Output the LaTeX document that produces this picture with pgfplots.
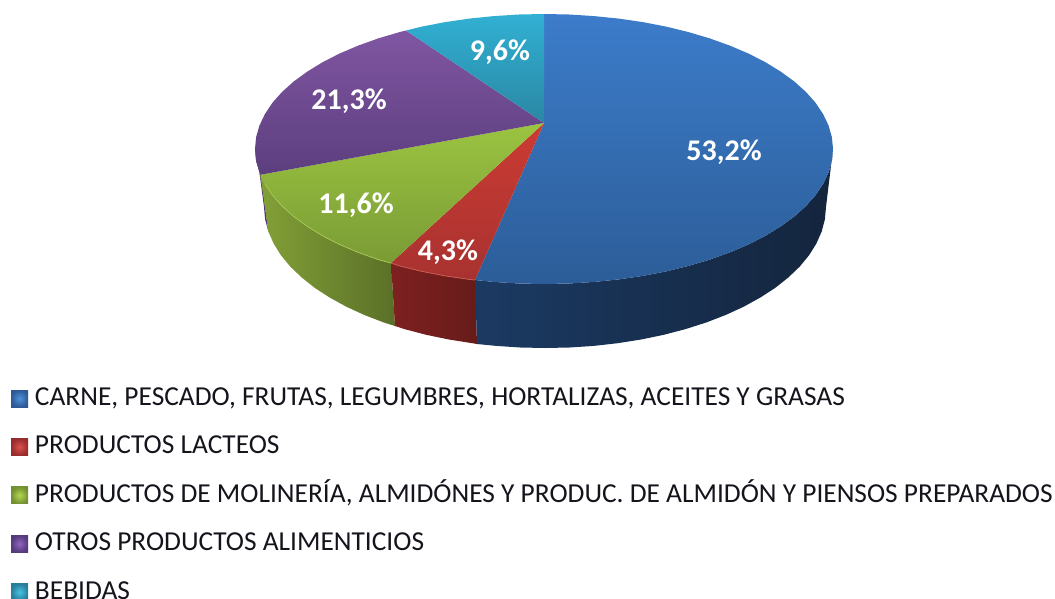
\documentclass[border=0pt]{standalone}
\usepackage{pgfplots}
\pgfplotsset{compat=1.18}
\usepackage{fontspec}
\setmainfont{Carlito}
\definecolor{legtext}{HTML}{14141C}
\definecolor{pside}{HTML}{4F2F70}
\definecolor{gsideL}{HTML}{82A037}
\definecolor{gsideR}{HTML}{5A7028}
\definecolor{rsideL}{HTML}{7E2020}
\definecolor{rsideR}{HTML}{661C1A}
\definecolor{bsideL}{HTML}{1B3A63}
\definecolor{bsideM}{HTML}{152A45}
\definecolor{bsideR}{HTML}{14253D}
\definecolor{btop}{HTML}{3C7CCA}
\definecolor{bbot}{HTML}{2C5D98}
\definecolor{rtop}{HTML}{CC3B33}
\definecolor{rbot}{HTML}{A83230}
\definecolor{gtop}{HTML}{9BC441}
\definecolor{gbot}{HTML}{7A9B35}
\definecolor{ptop}{HTML}{8056A2}
\definecolor{pbot}{HTML}{5C3E7E}
\definecolor{ctop}{HTML}{31B0D3}
\definecolor{cbot}{HTML}{2A87A3}
\definecolor{blin}{HTML}{5091DC}
\definecolor{blout}{HTML}{2D5A96}
\definecolor{rlin}{HTML}{DE504B}
\definecolor{rlout}{HTML}{962D2D}
\definecolor{glin}{HTML}{B4D750}
\definecolor{glout}{HTML}{739132}
\definecolor{plin}{HTML}{9164BE}
\definecolor{plout}{HTML}{553A7D}
\definecolor{clin}{HTML}{46C3E1}
\definecolor{clout}{HTML}{287D9B}
\definecolor{grim}{HTML}{A6C653}
\definecolor{rrim}{HTML}{CB5A52}
\newcommand{\legsq}[2]{\shade[inner color=#1,outer color=#2] (0pt,-8.5pt) rectangle (17pt,8.5pt);}
\begin{document}
\begin{tikzpicture}
\path[use as bounding box] (0,0) rectangle (1055pt,598pt);
\clip (0,0) rectangle (1055pt,598pt);
\begin{axis}[
  at={(0,0)}, anchor=south west, scale only axis, width=1055pt, height=598pt,
  xmin=0, xmax=1055, ymin=0, ymax=598, y dir=reverse, hide axis, clip=false,
  legend cell align=left,
  legend style={at={(axis cs:11,386.5)}, anchor=north west, draw=none, fill=none,
    inner sep=0pt, outer sep=0pt, row sep=24.4pt,
    font=\fontsize{27.4}{27.4}\selectfont\color{legtext},
    nodes={inner sep=0pt, outer sep=0pt, text height=19pt, text depth=5pt},
    /tikz/column 1/.style={column sep=7pt}},
]
% sides
\addplot[forget plot, draw=none, fill=pside] coordinates {(255,149)(256.1,160.8)(259.4,172.4)(264,207)(265.1,219.3)(268.3,231.5)(261,176)} -- cycle;
\addplot[forget plot, draw=none, shade, left color=gsideL, right color=gsideR] coordinates {(260.3,174.8)(264.9,183.9)(272.4,195.2)(282.1,206.1)(293.7,216.5)(307.3,226.4)(322.6,235.8)(339.6,244.5)(358.2,252.4)(378.2,259.6)(391,263)(395,326)(383.8,322.5)(364.4,315)(346.3,306.7)(329.8,297.6)(314.8,287.9)(301.7,277.5)(290.3,266.6)(280.9,255.2)(273.6,243.5)(268.3,231.5)} -- cycle;
\addplot[forget plot, draw=none, shade, left color=rsideL, right color=rsideR] coordinates {(391,263)(399.5,265.9)(421.9,271.4)(445.2,275.9)(469.2,279.4)(475,280)(477,344)(472.3,343.2)(448.9,339.5)(426.2,334.8)(404.5,329.1)(395,326)} -- cycle;
\addplot[forget plot, draw=none, shade, left color=bsideL, middle color=bsideM, right color=bsideR] coordinates {(475,280)(493.8,281.9)(518.8,283.5)(544,284)(569.2,283.5)(594.2,281.9)(618.8,279.4)(642.8,275.9)(666.1,271.4)(688.5,265.9)(709.8,259.6)(729.8,252.4)(748.4,244.5)(765.4,235.8)(780.7,226.4)(794.3,216.5)(805.9,206.1)(815.6,195.2)(823.1,183.9)(828.6,172.4)(831.9,160.8)(833,149)(826,207)(824.9,219.3)(821.7,231.5)(816.4,243.5)(809.1,255.2)(799.7,266.6)(788.3,277.5)(775.2,287.9)(760.2,297.6)(743.7,306.7)(725.6,315)(706.2,322.5)(685.5,329.1)(663.8,334.8)(641.1,339.5)(617.7,343.2)(593.8,345.9)(569.5,347.5)(545,348)(520.5,347.5)(496.2,345.9)(477,344)} -- cycle;
% top faces
\addplot[draw=none, shade, top color=btop, bottom color=bbot,
  legend image code/.code={\legsq{blin}{blout}}]
  coordinates {(544,123)(544,14)(569.2,14.5)(594.2,16.1)(618.8,18.6)(642.8,22.1)(666.1,26.6)(688.5,32.1)(709.8,38.4)(729.8,45.6)(748.4,53.5)(765.4,62.2)(780.7,71.6)(794.3,81.5)(805.9,91.9)(815.6,102.8)(823.1,114.1)(828.6,125.6)(831.9,137.2)(833,149)(831.9,160.8)(828.6,172.4)(823.1,183.9)(815.6,195.2)(805.9,206.1)(794.3,216.5)(780.7,226.4)(765.4,235.8)(748.4,244.5)(729.8,252.4)(709.8,259.6)(688.5,265.9)(666.1,271.4)(642.8,275.9)(618.8,279.4)(594.2,281.9)(569.2,283.5)(544,284)(518.8,283.5)(493.8,281.9)(475,280)} -- cycle;
\addlegendentry{CARNE, PESCADO, FRUTAS, LEGUMBRES, HORTALIZAS, ACEITES Y GRASAS}
\addplot[draw=none, shade, top color=rtop, bottom color=rbot,
  legend image code/.code={\legsq{rlin}{rlout}}]
  coordinates {(544,123)(475,280)(469.2,279.4)(445.2,275.9)(421.9,271.4)(399.5,265.9)(391,263)} -- cycle;
\addlegendentry{PRODUCTOS LACTEOS}
\addplot[draw=none, shade, top color=gtop, bottom color=gbot,
  legend image code/.code={\legsq{glin}{glout}}]
  coordinates {(544,123)(391,263)(378.2,259.6)(358.2,252.4)(339.6,244.5)(322.6,235.8)(307.3,226.4)(293.7,216.5)(282.1,206.1)(272.4,195.2)(264.9,183.9)(260.3,174.8)} -- cycle;
\addlegendentry{PRODUCTOS DE MOLINERÍA, ALMIDÓNES Y PRODUC. DE ALMIDÓN Y PIENSOS PREPARADOS}
\addplot[draw=none, shade, top color=ptop, bottom color=pbot,
  legend image code/.code={\legsq{plin}{plout}}]
  coordinates {(544,123)(260.3,174.8)(256.1,160.8)(255,149)(256.1,137.2)(259.4,125.6)(264.9,114.1)(272.4,102.8)(282.1,91.9)(293.7,81.5)(307.3,71.6)(322.6,62.2)(339.6,53.5)(358.2,45.6)(378.2,38.4)(399.5,32.1)(406,30.5)} -- cycle;
\addlegendentry{OTROS PRODUCTOS ALIMENTICIOS}
\addplot[draw=none, shade, top color=ctop, bottom color=cbot,
  legend image code/.code={\legsq{clin}{clout}}]
  coordinates {(544,123)(406,30.5)(421.9,26.6)(445.2,22.1)(469.2,18.6)(493.8,16.1)(518.8,14.5)(544,14)} -- cycle;
\addlegendentry{BEBIDAS}
% rim highlights
\addplot[forget plot, grim, line width=0.8pt] coordinates {(391,263)(378.2,259.6)(358.2,252.4)(339.6,244.5)(322.6,235.8)(307.3,226.4)(293.7,216.5)(282.1,206.1)(272.4,195.2)(264.9,183.9)};
\addplot[forget plot, rrim, line width=0.8pt] coordinates {(475,280)(469.2,279.4)(445.2,275.9)(421.9,271.4)(399.5,265.9)(391,263)};
\begin{scope}[every node/.style={text=white, font=\fontsize{30}{30}\selectfont\bfseries}]
\node at (axis cs:724,152.5) {53,2\%};
\node at (axis cs:349,101.5) {21,3\%};
\node at (axis cs:500,52.5) {9,6\%};
\node at (axis cs:356,205.5) {11,6\%};
\node at (axis cs:448,252.5) {4,3\%};
\end{scope}
\end{axis}
\end{tikzpicture}
\end{document}
